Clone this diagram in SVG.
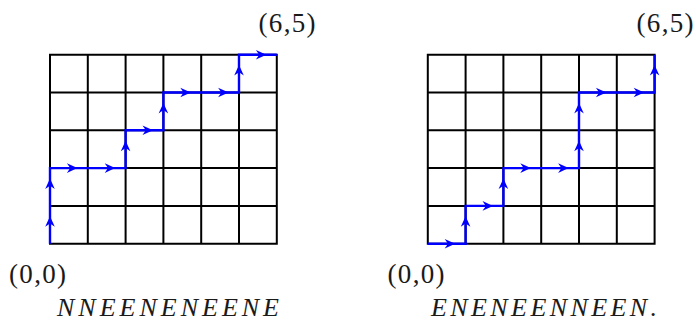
<svg xmlns="http://www.w3.org/2000/svg" xmlns:xlink="http://www.w3.org/1999/xlink" width="696" height="323" viewBox="0 0 696 323">
<style>
.grid{fill:none;stroke:#000;stroke-width:2;stroke-linecap:square}
.route{fill:none;stroke:#0000ff;stroke-width:2.4;stroke-linejoin:miter}
.ah{fill:#0000ff}
.lbl{font-family:"Liberation Serif","Times New Roman",serif;font-size:27px;fill:#1a1a1a}
.word{font-family:"Liberation Serif","Times New Roman",serif;font-size:26px;font-style:italic;fill:#1a1a1a}
</style>
<defs>
<path id="ah" d="M0,0 L-10.5,-4.8 L-7.2,0 L-10.5,4.8 Z"/>
</defs>
<rect width="696" height="323" fill="#fff"/>
<g id="left-grid">
<path class="grid" d="M50,54.7 V243.7 M87.8,54.7 V243.7 M125.6,54.7 V243.7 M163.4,54.7 V243.7 M201.2,54.7 V243.7 M239,54.7 V243.7 M276.8,54.7 V243.7 M50,54.7 H276.8 M50,92.5 H276.8 M50,130.3 H276.8 M50,168.1 H276.8 M50,205.9 H276.8 M50,243.7 H276.8"/>
</g>
<g id="right-grid">
<path class="grid" d="M427.8,54.7 V243.7 M465.6,54.7 V243.7 M503.4,54.7 V243.7 M541.2,54.7 V243.7 M579,54.7 V243.7 M616.8,54.7 V243.7 M654.6,54.7 V243.7 M427.8,54.7 H654.6 M427.8,92.5 H654.6 M427.8,130.3 H654.6 M427.8,168.1 H654.6 M427.8,205.9 H654.6 M427.8,243.7 H654.6"/>
</g>
<g id="connectors">
<g id="left-path">
<path class="route" d="M50,243.7 V168.1 H125.6 V130.3 H163.4 V92.5 H239 V54.7 H276.8"/>
<g class="ah">
<use xlink:href="#ah" transform="translate(50,216.3) rotate(-90)"/>
<use xlink:href="#ah" transform="translate(50,178.5) rotate(-90)"/>
<use xlink:href="#ah" transform="translate(77.4,168.1)"/>
<use xlink:href="#ah" transform="translate(115.2,168.1)"/>
<use xlink:href="#ah" transform="translate(125.6,140.7) rotate(-90)"/>
<use xlink:href="#ah" transform="translate(153,130.3)"/>
<use xlink:href="#ah" transform="translate(163.4,102.9) rotate(-90)"/>
<use xlink:href="#ah" transform="translate(190.8,92.5)"/>
<use xlink:href="#ah" transform="translate(228.6,92.5)"/>
<use xlink:href="#ah" transform="translate(239,65.1) rotate(-90)"/>
<use xlink:href="#ah" transform="translate(266.4,54.7)"/>
</g>
</g>
<g id="right-path">
<path class="route" d="M427.8,243.7 H465.6 V205.9 H503.4 V168.1 H579 V92.5 H654.6 V54.7"/>
<g class="ah">
<use xlink:href="#ah" transform="translate(455.2,243.7)"/>
<use xlink:href="#ah" transform="translate(465.6,216.3) rotate(-90)"/>
<use xlink:href="#ah" transform="translate(493,205.9)"/>
<use xlink:href="#ah" transform="translate(503.4,178.5) rotate(-90)"/>
<use xlink:href="#ah" transform="translate(530.8,168.1)"/>
<use xlink:href="#ah" transform="translate(568.6,168.1)"/>
<use xlink:href="#ah" transform="translate(579,140.7) rotate(-90)"/>
<use xlink:href="#ah" transform="translate(579,102.9) rotate(-90)"/>
<use xlink:href="#ah" transform="translate(606.4,92.5)"/>
<use xlink:href="#ah" transform="translate(644.2,92.5)"/>
<use xlink:href="#ah" transform="translate(654.6,65.1) rotate(-90)"/>
</g>
</g>
</g>
<g id="labels">
<text class="lbl" x="9" y="283" textLength="57" lengthAdjust="spacing">(0,0)</text>
<text class="lbl" x="258.5" y="32" textLength="57" lengthAdjust="spacing">(6,5)</text>
<text class="lbl" x="387.5" y="283" textLength="57" lengthAdjust="spacing">(0,0)</text>
<text class="lbl" x="636.5" y="32" textLength="57" lengthAdjust="spacing">(6,5)</text>
<text class="word" x="57" y="316" textLength="222" lengthAdjust="spacing">NNEENENEENE</text>
<text class="word" x="431" y="316" textLength="226" lengthAdjust="spacing">ENENEENNEEN.</text>
</g>
</svg>
